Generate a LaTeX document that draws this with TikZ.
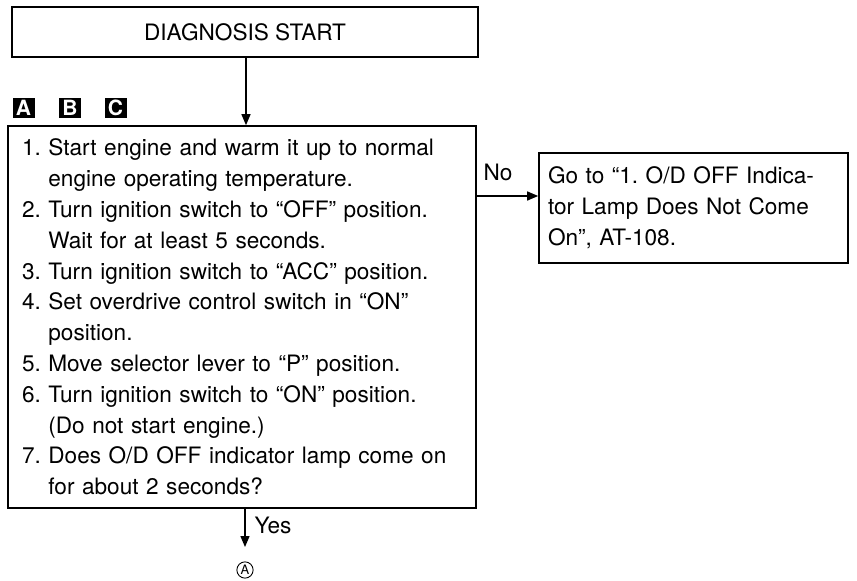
\documentclass[tikz,border=0pt]{standalone}
\usepackage{fontspec}
\setmainfont{TeX Gyre Heros}
\usetikzlibrary{arrows.meta}
\begin{document}
\frenchspacing
\begin{tikzpicture}[x=1pt,y=-1pt,
  box/.style={draw=black, line width=1.6pt, rectangle, inner ysep=0pt},
  txt/.style={font=\fontsize{22.6}{30.8}\selectfont},
  badge/.style={fill=black, text=white, font=\fontsize{21}{21}\selectfont\bfseries, minimum width=22pt, minimum height=20pt, inner sep=0pt},
  conn/.style={draw=black, line width=1.4pt, -{Triangle[length=11pt,width=9pt]}},
  lbl/.style={font=\fontsize{22.6}{24}\selectfont, inner sep=0pt}
]
\useasboundingbox (0,0) rectangle (857,581);

\node[box, txt, minimum width=466pt, minimum height=50pt] (start) at (245,32) {DIAGNOSIS START};

\node[badge] (ba) at (23.5,107.5) {A};
\node[badge] (bb) at (70,107.5) {B};
\node[badge] (bc) at (115.5,107.5) {C};

\node[box, txt, text width=440pt, inner xsep=14pt, minimum height=382pt, align=left] (main) at (242,317) {%
1. Start engine and warm it up to normal\\
\hphantom{1. }engine operating temperature.\\
2. Turn ignition switch to “OFF” position.\\
\hphantom{2. }Wait for at least 5 seconds.\\
3. Turn ignition switch to “ACC” position.\\
4. Set overdrive control switch in “ON”\\
\hphantom{4. }position.\\
5. Move selector lever to “P” position.\\
6. Turn ignition switch to “ON” position.\\
\hphantom{6. }(Do not start engine.)\\
7. Does O/D OFF indicator lamp come on\\
\hphantom{7. }for about 2 seconds?};

\node[box, txt, text width=291pt, inner xsep=9pt, minimum height=110pt, align=left] (goto) at (693.5,208) {%
Go to “1. O/D OFF Indica-\\
tor Lamp Does Not Come\\
On”, AT-108.};

\coordinate (nostart) at (476,196);
\coordinate (yesend) at (245,547);
\node[draw=black, line width=0.9pt, circle, inner sep=1.2pt, font=\fontsize{13}{13}\selectfont] (circA) at (245,570) {A};

\draw[conn] (start.south -| 246,0) -- (main.north -| 246,0);
\draw[conn] (main.east |- nostart) -- (goto.west |- nostart);
\draw[conn] (main.south -| yesend) -- (yesend);

\node[lbl] (no) at (498,172) {No};
\node[lbl] (yes) at (273,525) {Yes};
\end{tikzpicture}
\end{document}
